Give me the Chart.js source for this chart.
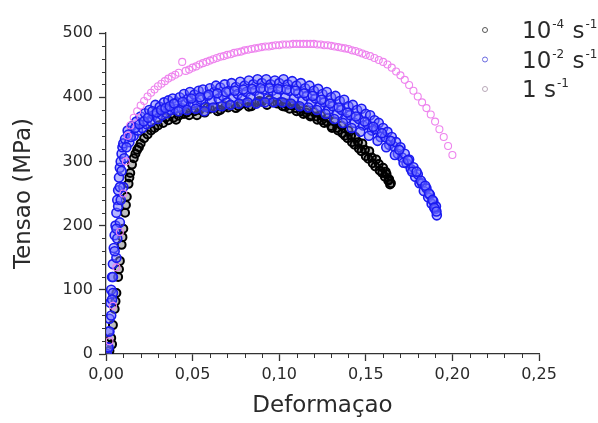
<!DOCTYPE html>
<html>
<head>
<meta charset="utf-8">
<script src="https://cdn.jsdelivr.net/npm/chart.js@4/dist/chart.umd.min.js"></script>
<style>
  html, body { margin: 0; padding: 0; background: #fff; }
  #wrap { width: 598px; height: 423px; }
</style>
</head>
<body>
<div id="wrap"><canvas id="chart" width="598" height="423"></canvas></div>
<script>
'use strict';

// ── DATA ──
const seriesLabels = ['10-4', '10-2', '1'];
const xTicks = [0, 0.05, 0.10, 0.15, 0.20, 0.25];
const yTicks = [0, 100, 200, 300, 400, 500];

// 10^-4 s^-1 (black)
const blackStrain = [
  0.002, 0.003, 0.004, 0.005, 0.006, 0.007, 0.008, 0.009, 0.010, 0.011,
  0.012, 0.013, 0.014, 0.015, 0.016, 0.018, 0.020, 0.022, 0.024, 0.026,
  0.028, 0.030, 0.033, 0.036, 0.039, 0.042, 0.045, 0.048, 0.051, 0.054,
  0.057, 0.060, 0.063, 0.066, 0.069, 0.072, 0.075, 0.078, 0.081, 0.084,
  0.087, 0.090, 0.093, 0.096, 0.099, 0.102, 0.104, 0.106, 0.108, 0.110,
  0.112, 0.114, 0.116, 0.118, 0.120, 0.122, 0.124, 0.126, 0.128, 0.130,
  0.132, 0.134, 0.136, 0.138, 0.140, 0.142, 0.144, 0.146, 0.148, 0.150,
  0.152, 0.154, 0.156, 0.158, 0.160, 0.161, 0.162, 0.163, 0.164,
  0.0035, 0.0055, 0.0075, 0.0095, 0.0115, 0.0135, 0.0170, 0.0190,
  0.0345, 0.0405, 0.0465, 0.0525, 0.0585, 0.0645, 0.0705, 0.0765, 0.0825, 0.0885,
  0.0945, 0.1005, 0.1035, 0.1065, 0.1095, 0.1125, 0.1155, 0.1185, 0.1215, 0.1245,
  0.1275, 0.1305, 0.1335, 0.1365, 0.1395, 0.1415, 0.1435, 0.1455, 0.1475, 0.1495,
  0.1515, 0.1535, 0.1555, 0.1575, 0.1595, 0.1615, 0.1635, 0.1645
];
const blackStress = [
  5, 25, 45, 70, 95, 120, 145, 170, 195, 220,
  245, 265, 282, 295, 305, 318, 328, 336, 342, 348,
  352, 356, 360, 364, 368, 371, 374, 372, 378, 380,
  376, 382, 384, 380, 386, 388, 383, 389, 391, 386,
  392, 393, 388, 392, 390, 386, 390, 382, 387, 378,
  384, 374, 380, 370, 377, 365, 372, 360, 368, 355,
  362, 348, 356, 340, 348, 330, 338, 320, 328, 308,
  316, 297, 303, 286, 290, 276, 280, 270, 264,
  15, 82, 132, 182, 232, 275, 312, 322,
  368, 365, 376, 372, 384, 378, 384, 386, 385, 394,
  396, 392, 385, 388, 383, 378, 376, 372, 370, 364,
  362, 352, 352, 344, 336, 340, 326, 330, 316, 318,
  304, 306, 292, 296, 282, 284, 272, 266
];

// 10^-2 s^-1 (blue)
const blueStrain = [
  0.0010, 0.0015, 0.0020, 0.0025, 0.0030, 0.0035, 0.0040, 0.0045, 0.0050, 0.0055,
  0.0060, 0.0065, 0.0070, 0.0075, 0.0080, 0.0085, 0.0090, 0.0095, 0.0100, 0.0040,
  0.0060, 0.0080, 0.0100,
  0.0005, 0.0020, 0.0030, 0.0040, 0.0050, 0.0060, 0.0070, 0.0080, 0.0090, 0.0105,
  0.0015, 0.0035, 0.0065, 0.0085,
  0.0110, 0.0125, 0.0135, 0.0150, 0.0160, 0.0175, 0.0185, 0.0200, 0.0210, 0.0225,
  0.0235, 0.0250, 0.0260, 0.0275, 0.0285, 0.0300, 0.0310, 0.0325, 0.0335, 0.0350,
  0.0360, 0.0375, 0.0385, 0.0400, 0.0410, 0.0425, 0.0435, 0.0450, 0.0460, 0.0475,
  0.0485, 0.0500, 0.0510, 0.0525, 0.0535, 0.0550, 0.0560, 0.0575, 0.0585, 0.0600,
  0.0610, 0.0625, 0.0635, 0.0650, 0.0660, 0.0675, 0.0685, 0.0700, 0.0710, 0.0725,
  0.0735, 0.0750, 0.0760, 0.0775, 0.0785, 0.0800, 0.0810, 0.0825, 0.0835, 0.0850,
  0.0860, 0.0875, 0.0885, 0.0900, 0.0910, 0.0925, 0.0935, 0.0950, 0.0960, 0.0975,
  0.0985, 0.1000, 0.1010, 0.1025, 0.1035, 0.1050, 0.1060, 0.1075, 0.1085, 0.1100,
  0.1110, 0.1125, 0.1135, 0.1150, 0.1160, 0.1175, 0.1185, 0.1200, 0.1210, 0.1225,
  0.1235, 0.1250, 0.1260, 0.1275, 0.1285, 0.1300, 0.1310, 0.1325, 0.1335, 0.1350,
  0.1360, 0.1375, 0.1385, 0.1400, 0.1410, 0.1425, 0.1435, 0.1450, 0.1460, 0.1475,
  0.1485, 0.1500, 0.1510, 0.1525, 0.1535, 0.1550, 0.1560, 0.1575, 0.1585, 0.1600,
  0.1610, 0.1625, 0.1635, 0.1650, 0.1660, 0.1675, 0.1685, 0.1700, 0.1710, 0.1725,
  0.1735, 0.1750, 0.1760, 0.1775, 0.1785, 0.1800, 0.1810, 0.1825, 0.1835, 0.1850,
  0.1860, 0.1870, 0.1880, 0.1890, 0.1900, 0.1905, 0.1910,
  0.0118, 0.0130, 0.0143, 0.0168, 0.0193, 0.0218, 0.0243, 0.0268, 0.0293, 0.0318,
  0.0343, 0.0368, 0.0393, 0.0418, 0.0443, 0.0468, 0.0493, 0.0518, 0.0543, 0.0568,
  0.0593, 0.0618, 0.0643, 0.0668, 0.0693, 0.0718, 0.0743, 0.0768, 0.0793, 0.0818,
  0.0843, 0.0868, 0.0893, 0.0918, 0.0943, 0.0968, 0.0993, 0.1018, 0.1043, 0.1068,
  0.1093, 0.1118, 0.1143, 0.1168, 0.1193, 0.1218, 0.1243, 0.1268, 0.1293, 0.1318,
  0.1343, 0.1368, 0.1393, 0.1418, 0.1443, 0.1468, 0.1493, 0.1518, 0.1543, 0.1568,
  0.1593, 0.1618, 0.1643, 0.1668, 0.1693, 0.1718, 0.1743, 0.1768, 0.1793, 0.1818,
  0.1843, 0.1865, 0.1885, 0.1895, 0.1908
];
const blueStress = [
  10, 35, 55, 80, 100, 120, 140, 165, 185, 200,
  220, 240, 255, 275, 290, 300, 312, 322, 328, 95,
  150, 205, 260,
  0, 35, 60, 120, 160, 195, 230, 260, 285, 305,
  10, 85, 180, 240,
  335, 348, 330, 355, 340, 362, 348, 370, 352, 375,
  358, 380, 362, 372, 388, 366, 385, 372, 392, 375,
  395, 380, 398, 382, 392, 400, 383, 405, 390, 398,
  408, 388, 404, 392, 410, 396, 412, 385, 402, 414,
  395, 408, 418, 398, 415, 402, 420, 392, 410, 422,
  400, 416, 405, 424, 398, 418, 408, 426, 400, 420,
  410, 428, 402, 422, 412, 428, 398, 420, 410, 426,
  404, 422, 412, 428, 400, 420, 410, 425, 398, 418,
  406, 422, 395, 414, 402, 418, 392, 410, 398, 413,
  386, 405, 392, 408, 380, 400, 386, 402, 374, 394,
  380, 396, 366, 386, 372, 388, 360, 380, 366, 382,
  356, 374, 358, 372, 348, 364, 350, 360, 338, 352,
  338, 346, 326, 338, 324, 330, 312, 322, 306, 312,
  297, 303, 288, 291, 276, 280, 266, 266, 254, 258,
  244, 248, 234, 238, 226, 230, 216,
  322, 342, 338, 352, 358, 362, 368, 378, 376, 380,
  383, 386, 390, 378, 393, 380, 398, 382, 400, 378,
  404, 384, 406, 386, 408, 388, 410, 390, 412, 392,
  413, 390, 414, 392, 414, 392, 413, 392, 412, 390,
  410, 386, 406, 384, 402, 380, 396, 374, 390, 366,
  384, 360, 376, 352, 370, 346, 362, 340, 354, 332,
  344, 322, 332, 310, 318, 298, 302, 284, 284, 270,
  262, 250, 240, 228, 222
];

// 1 s^-1 (pink)
const pinkStrain = [
  0.0020, 0.0040, 0.0060, 0.0080, 0.0100, 0.0115, 0.0125, 0.0140, 0.0160, 0.0180,
  0.0200, 0.0220, 0.0240, 0.0260, 0.0280, 0.0300, 0.0320, 0.0340, 0.0360, 0.0380,
  0.0400, 0.0420, 0.0440, 0.0460, 0.0480, 0.0500, 0.0520, 0.0540, 0.0560, 0.0580,
  0.0600, 0.0620, 0.0640, 0.0660, 0.0680, 0.0700, 0.0720, 0.0740, 0.0760, 0.0780,
  0.0800, 0.0820, 0.0840, 0.0860, 0.0880, 0.0900, 0.0920, 0.0940, 0.0960, 0.0980,
  0.1000, 0.1020, 0.1040, 0.1060, 0.1080, 0.1100, 0.1120, 0.1140, 0.1160, 0.1180,
  0.1200, 0.1220, 0.1240, 0.1260, 0.1280, 0.1300, 0.1320, 0.1340, 0.1360, 0.1380,
  0.1400, 0.1420, 0.1440, 0.1460, 0.1480, 0.1500, 0.1525, 0.1550, 0.1575, 0.1600,
  0.1625, 0.1650, 0.1675, 0.1700, 0.1725, 0.1750, 0.1775, 0.1800, 0.1825, 0.1850,
  0.1875, 0.1900, 0.1925, 0.1950, 0.1975, 0.2000
];
const pinkStress = [
  20, 75, 135, 190, 250, 300, 340, 356, 368, 378,
  387, 394, 401, 407, 412, 417, 421, 425, 429, 432,
  435, 438, 455, 441, 443, 446, 448, 451, 453, 455,
  457, 459, 461, 463, 464, 466, 467, 469, 470, 471,
  473, 474, 475, 476, 477, 478, 479, 479, 480, 481,
  481, 482, 482, 482, 483, 483, 483, 483, 483, 483,
  483, 482, 482, 481, 481, 480, 479, 478, 477, 476,
  475, 473, 472, 470, 468, 466, 464, 461, 458, 455,
  451, 446, 440, 434, 427, 419, 410, 401, 392, 383,
  373, 362, 350, 338, 324, 310
];

// ── STYLE ──
const FONT = '"DejaVu Sans", "Liberation Sans", Arial, sans-serif';
const AXIS_COLOR = '#333';
const TEXT_COLOR = '#2a2a2a';

const toPoints = (xs, ys) => xs.map((x, i) => ({ x, y: ys[i] }));

// ── PLUGIN: minor ticks ──
const minorTicks = {
  id: 'minorTicks',
  afterDraw(chart) {
    const { ctx, scales: { x, y }, chartArea } = chart;
    ctx.save();
    ctx.strokeStyle = AXIS_COLOR;
    ctx.lineWidth = 1;
    ctx.beginPath();
    for (let i = 1; i < 25; i++) {
      if (i % 5 === 0) continue;
      const px = Math.round(x.getPixelForValue(i / 100)) + 0.5;
      ctx.moveTo(px, chartArea.bottom);
      ctx.lineTo(px, chartArea.bottom + 4);
    }
    for (let v = 20; v < 500; v += 20) {
      if (v % 100 === 0) continue;
      const py = Math.round(y.getPixelForValue(v)) + 0.5;
      ctx.moveTo(chartArea.left, py);
      ctx.lineTo(chartArea.left - 4, py);
    }
    ctx.stroke();
    ctx.restore();
  }
};

// ── PLUGIN: legend with superscripts ──
const supLegend = {
  id: 'supLegend',
  afterDraw(chart) {
    const { ctx } = chart;
    const rows = [
      { base: '10', sup: '-4', color: '#555' },
      { base: '10', sup: '-2', color: '#6a6ae0' },
      { base: '1',  sup: '',   color: '#b8a8b8' },
    ];
    ctx.save();
    rows.forEach((r, i) => {
      const baseY = 38 + i * 29.5;
      ctx.beginPath();
      ctx.strokeStyle = r.color;
      ctx.lineWidth = 1;
      ctx.arc(485, baseY - 8, 2.5, 0, Math.PI * 2);
      ctx.stroke();
      ctx.fillStyle = TEXT_COLOR;
      ctx.textBaseline = 'alphabetic';
      ctx.textAlign = 'left';
      let xPos = 522;
      ctx.font = '23px ' + FONT;
      ctx.fillText(r.base, xPos, baseY);
      xPos += ctx.measureText(r.base).width;
      if (r.sup) {
        ctx.font = '12px ' + FONT;
        ctx.fillText(r.sup, xPos + 1, baseY - 10);
        xPos += ctx.measureText(r.sup).width + 2;
      }
      ctx.font = '23px ' + FONT;
      ctx.fillText(' s', xPos, baseY);
      xPos += ctx.measureText(' s').width;
      ctx.font = '12px ' + FONT;
      ctx.fillText('-1', xPos + 1, baseY - 10);
    });
    ctx.restore();
  }
};

// ── CHART ──
const ctx = document.getElementById('chart').getContext('2d');
new Chart(ctx, {
  type: 'scatter',
  data: {
    datasets: [
      {
        label: seriesLabels[0],
        data: toPoints(blackStrain, blackStress),
        borderColor: '#000',
        backgroundColor: 'rgba(0,0,0,0.25)',
        pointRadius: 4,
        borderWidth: 2,
        order: 3,
      },
      {
        label: seriesLabels[1],
        data: toPoints(blueStrain, blueStress),
        borderColor: '#1a1af0',
        backgroundColor: 'rgba(110,110,255,0.5)',
        pointRadius: 4.5,
        borderWidth: 1.6,
        order: 2,
      },
      {
        label: seriesLabels[2],
        data: toPoints(pinkStrain, pinkStress),
        borderColor: '#ee84ee',
        backgroundColor: 'rgba(0,0,0,0)',
        pointRadius: 3.5,
        borderWidth: 1.1,
        order: 1,
      },
    ]
  },
  options: {
    responsive: false,
    animation: false,
    layout: { padding: { top: 33, right: 59, left: 0, bottom: 0 } },
    plugins: {
      legend: { display: false },
      tooltip: { enabled: false },
    },
    scales: {
      x: {
        type: 'linear',
        min: 0, max: 0.25,
        afterFit: s => { s.height = 69; },
        afterBuildTicks: s => { s.ticks = xTicks.map(v => ({ value: v })); },
        border: { color: AXIS_COLOR, width: 1.3 },
        grid: { drawOnChartArea: false, tickLength: 7, tickColor: AXIS_COLOR, tickWidth: 1.3 },
        ticks: {
          color: TEXT_COLOR, padding: 4, maxRotation: 0,
          font: { family: FONT, size: 16 },
          callback: v => v.toFixed(2).replace('.', ','),
        },
        title: {
          display: true, text: 'Deformaçao', color: TEXT_COLOR,
          font: { family: FONT, size: 23 },
          padding: { top: 0, bottom: 3 },
        },
      },
      y: {
        type: 'linear',
        min: 0, max: 500,
        afterFit: s => { s.width = 106; },
        afterBuildTicks: s => { s.ticks = yTicks.map(v => ({ value: v })); },
        border: { color: AXIS_COLOR, width: 1.3 },
        grid: { drawOnChartArea: false, tickLength: 7, tickColor: AXIS_COLOR, tickWidth: 1.3 },
        ticks: {
          color: TEXT_COLOR, padding: 6,
          font: { family: FONT, size: 16 },
        },
        title: {
          display: true, text: 'Tensao (MPa)', color: TEXT_COLOR,
          font: { family: FONT, size: 23 },
          padding: { top: 10, bottom: 0 },
        },
      }
    }
  },
  plugins: [minorTicks, supLegend]
});
</script>
</body>
</html>
